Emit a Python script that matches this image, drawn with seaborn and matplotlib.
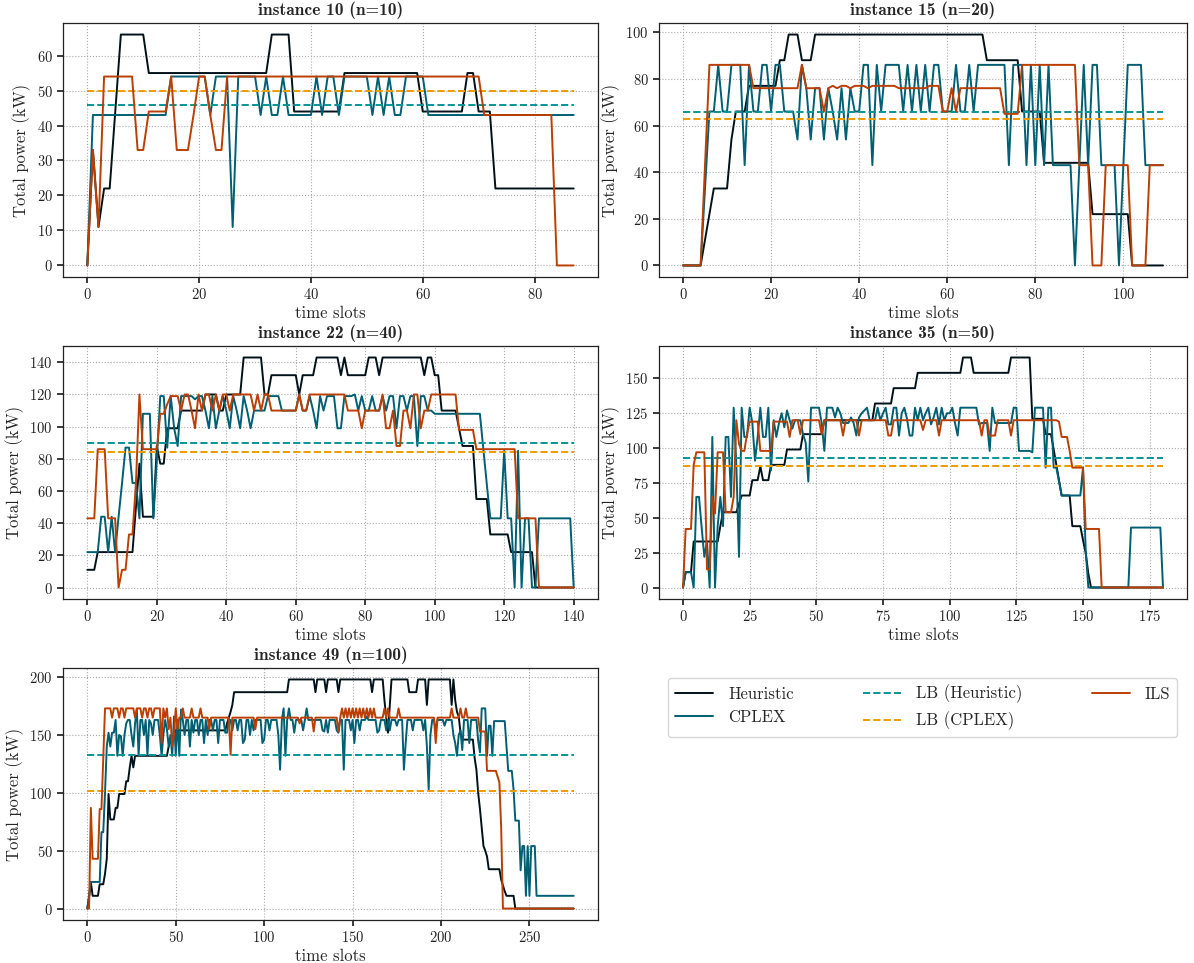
import numpy as np
import matplotlib
matplotlib.use("Agg")
import matplotlib.pyplot as plt
import seaborn as sns

# ---------------- data: total power per time slot (kW) ----------------
# instance 10 (n=10), 88 slots
h10 = [0, 33, 11, 22, 22, 44] + [66]*5 + [55]*22 + [66]*4 + [44]*9 + [55]*14 + [44]*8 + [55]*2 + [44]*3 + [22]*15
c10 = ([0] + [43]*14 + [54]*7 + [43] + [54]*3 + [11] + [54]*4 + [43] + [54] + [43]*2 + [54] + [43]*5
       + [54] + [43] + [54]*2 + [43] + [54]*5 + [43] + [54] + [43] + [54] + [43]*2 + [54]*4 + [43]*27)
i10 = [0, 33, 11] + [54]*6 + [33]*2 + [44]*4 + [54] + [33]*3 + [43] + [54]*2 + [43] + [33]*2 + [54]*46 + [43]*13 + [0]*4

# instance 15 (n=20), 110 slots
h15 = ([0]*5 + [11, 22] + [33]*4 + [54, 66, 66, 66] + [77]*7 + [88, 88] + [99]*3 + [88]*3 + [99]*39
       + [88]*8 + [66]*5 + [44]*11 + [22]*9 + [0]*8)
c15 = [0, 0, 0, 0, 0, 33, 66, 66, 86, 66, 66, 86, 86, 86, 43, 86,
       66, 66, 86, 86, 66, 86, 86, 66, 66, 66, 54, 86, 76, 54, 76, 76,
       54, 76, 66, 54, 76, 54, 76, 66, 66, 86, 86, 43, 86, 66, 86, 86,
       86, 86, 66, 86, 66, 86, 66, 86, 66, 86, 86, 66, 66, 66, 86, 66,
       66, 86, 66, 86, 86, 86, 86, 86, 86, 86, 43, 86, 86, 86, 43, 86,
       43, 86, 43, 86, 43, 43, 43, 43, 43, 0, 43, 86, 43, 86, 86, 43,
       43, 43, 43, 0, 43, 86, 86, 86, 86, 43, 43, 43, 43, 43]
i15 = ([0]*5 + [43] + [86]*10 + [76]*11 + [86] + [76]*4 + [66]
       + [76, 77, 76, 77, 77, 76, 77, 77, 77, 76, 77, 77, 77, 77, 77, 77, 76, 76, 76, 76, 76, 76, 76, 77, 77, 77]
       + [66, 66, 76, 66] + [76]*10 + [65]*4 + [86]*13 + [43]*3 + [0]*3 + [43]*6 + [0]*4 + [43]*4)

# instance 22 (n=40), 141 slots
h22 = ([11]*3 + [22]*11 + [50, 77] + [44]*4 + [88] + [77]*2 + [99]*4 + [110]*7 + [120]*4 + [110]*2
       + [120]*5 + [143]*6 + [120]*2 + [132]*8 + [120] + [132]*4 + [143]*7 + [132] + [143] + [132]*6
       + [143]*3 + [132] + [143]*12 + [132] + [143]*2 + [132]*2 + [110]*5 + [99] + [88]*4 + [55]*4
       + [33]*6 + [22]*7 + [0]*12)
c22 = [22, 22, 22, 22, 44, 44, 22, 44, 22, 44, 65, 87, 87, 65, 65, 43,
       108, 108, 108, 43, 79, 119, 119, 87, 119, 99, 88, 119, 119, 119, 119, 117,
       119, 119, 110, 99, 119, 99, 110, 119, 110, 99, 119, 110, 99, 119, 110, 99,
       110, 110, 110, 110, 119, 119, 119, 119, 110, 110, 110, 110, 110, 120, 110, 110,
       119, 110, 99, 119, 110, 119, 119, 119, 99, 99, 119, 119, 119, 120, 110, 119,
       110, 110, 119, 110, 110, 119, 110, 119, 119, 99, 119, 119, 110, 119, 119, 88,
       119, 119, 110, 110, 108, 108, 108, 108, 108, 108, 108, 108, 108, 108, 108, 108,
       108, 108, 86, 64, 43, 43, 43, 43, 85, 43, 43, 0, 85, 0, 43, 43,
       0, 0, 43, 43, 43, 43, 43, 43, 43, 43, 43, 43, 0]
i22 = ([43]*3 + [86]*3 + [43]*3 + [0] + [11]*2 + [33]*2 + [65, 120] + [86]*5 + [108]*2 + [114] + [119]*3
       + [110, 120, 120, 110, 99, 120, 110, 120, 120, 110, 120, 110, 120, 120, 110, 120, 120, 120, 120,
          120, 120, 110, 120, 110, 120, 120, 110]
       + [110]*7 + [120] + [110]*2 + [120]*11 + [110]*4 + [99] + [110]*5 + [120] + [99]*2 + [110]
       + [88]*2 + [110]*2 + [99] + [120]*2 + [99] + [110]*2 + [120]*8 + [98]*5 + [86]*12 + [43]*6 + [0]*11)

# instance 35 (n=50), 181 slots
h35 = ([0] + [11]*3 + [33]*10 + [44] + [54]*6 + [60] + [66]*4 + [77]*3 + [87] + [77]*3 + [88]*6
       + [99]*6 + [110]*8 + [120]*19 + [132]*7 + [143]*9 + [154]*17 + [165]*4 + [154]*14 + [165]*8
       + [121]*5 + [110]*3 + [99, 88, 77] + [66]*4 + [44]*4 + [34, 25, 10] + [0]*28)
c35 = [0, 11, 11, 11, 0, 65, 65, 43, 22, 33, 0, 108, 0, 44, 65, 44,
       108, 108, 65, 129, 88, 22, 129, 108, 108, 129, 118, 91, 108, 129, 108, 108,
       129, 84, 120, 108, 118, 125, 115, 127, 120, 114, 120, 120, 120, 110, 104, 76,
       129, 129, 129, 129, 118, 98, 129, 129, 129, 122, 129, 125, 118, 118, 118, 122,
       118, 109, 122, 125, 127, 129, 120, 120, 120, 129, 120, 125, 129, 117, 117, 129,
       129, 109, 125, 129, 121, 109, 109, 129, 120, 129, 120, 125, 129, 117, 122, 129,
       117, 129, 120, 125, 125, 129, 118, 109, 129, 129, 129, 129, 129, 129, 129, 117,
       118, 118, 118, 98, 129, 118, 118, 118, 118, 118, 118, 118, 129, 129, 98, 98,
       98, 98, 98, 97, 129, 129, 129, 129, 86, 129, 129, 86, 86, 76, 66, 66,
       66, 66, 66, 66, 66, 66, 86, 27, 0, 0, 0, 0, 0, 0, 0, 0,
       0, 0, 0, 0, 0, 0, 0, 0, 43, 43, 43, 43, 43, 43, 43, 43,
       43, 43, 43, 43, 0]
i35 = ([0] + [42]*3 + [88] + [97]*4 + [13]*2 + [65, 53] + [97]*3 + [54]*3 + [65, 120, 103, 98, 98, 110]
       + [119]*4 + [98]*5 + [119]*6 + [108]
       + [120, 120, 120, 110, 120, 120, 120, 120, 120, 120, 120, 110, 120, 120, 120, 120, 120, 120, 120, 109]
       + [120, 120, 120, 120, 120, 109, 120, 120, 120, 120, 120, 120, 120, 120, 120, 120, 109, 109, 120, 120]
       + [120, 120, 120, 120, 120, 120, 120, 120, 120, 113, 120, 120, 120, 120, 120, 109, 120, 120, 120, 120]
       + [120, 120, 120, 120, 120, 120, 120, 120, 120, 120, 120, 109, 120, 120, 109, 109, 109, 120, 120, 120]
       + [120, 120, 109, 120, 120, 120, 120, 120, 120, 120, 120, 120, 120, 120, 120, 120, 120, 120, 120, 120]
       + [119, 108, 108, 108, 98, 86, 86, 86, 86, 86, 42, 42, 42, 42, 42, 42, 0, 0, 0, 0]
       + [0]*20)

# instance 49 (n=100), 276 slots
h49 = ([0, 10, 23, 11, 11, 11, 11, 21, 21, 21, 30, 43, 99, 77, 77, 77, 87, 87, 99, 99,
        99, 99, 110, 110, 122, 132, 122, 132, 132, 132]
       + [132]*16 + [140] + [145, 148, 150] + [154]*29 + [160, 165, 170, 176] + [187]*31 + [198]*15
       + [187] + [198]*5 + [187] + [198]*6 + [187] + [198]*18 + [187] + [198]*6 + [180, 165, 152, 175]
       + [198]*10 + [187]*5 + [198]*5 + [176] + [198]*13 + [176, 198, 180, 170, 166, 152] + [146]*7
       + [130, 120, 100, 86, 70, 54, 50, 45] + [34]*7 + [25, 20, 15] + [11]*5 + [0]*34)
c49 = ([0, 11, 23, 23, 23, 23, 23, 23, 66, 66]
       + [100, 140, 152, 140, 152, 152, 163, 132, 150, 149, 132, 150, 160, 163, 163, 150, 140, 160, 172, 132]
       + [163, 163, 150, 163, 132, 163, 160, 150, 163, 163, 163, 150, 132, 150, 163, 155, 140, 150, 132, 166]
       + [132, 163, 132, 172, 163, 150, 163, 163, 140, 163, 152, 163, 163, 150, 163, 163, 143, 163, 150, 163]
       + [163, 154, 163, 163, 143, 163, 163, 163, 152, 152, 163, 163, 154, 163, 163, 154, 163, 163, 143, 146]
       + [163, 163, 150, 163, 154, 163, 163, 163, 163, 143, 146, 163, 163, 154, 163, 163, 163, 163, 150, 120]
       + [163, 173, 132, 163, 173, 163, 163, 152, 163, 163, 163, 163, 154, 163, 173, 163, 163, 163, 163, 163]
       + [163, 163, 163, 154, 153, 163, 152, 163, 163, 163, 163, 154, 152, 163, 163, 120, 163, 163, 163, 154]
       + [163, 143, 163, 163, 154, 163, 163, 163, 166, 163, 163, 163, 163, 163, 152, 154, 163, 163, 163, 154]
       + [163, 154, 163, 163, 163, 158, 163, 163, 163, 120, 143, 163, 163, 163, 154, 163, 163, 163, 163, 163]
       + [154, 163, 140, 103, 150, 163, 163, 154, 163, 163, 163, 163, 158, 163, 163, 163, 163, 150, 143, 132]
       + [150, 154, 137, 163, 163, 163, 143, 163, 163, 163, 163, 145, 135, 173, 173, 173, 132, 158, 158, 132]
       + [162, 162, 162, 162, 162, 162, 162, 140, 119, 119, 119, 103, 76, 76, 76, 33, 54, 54, 11, 54]
       + [11, 54, 54, 54, 11] + [11]*21)
i49 = ([0, 0, 87, 43, 43, 43, 43, 86, 86, 130]
       + [173, 173, 173, 173, 165, 173, 173, 173, 165, 173, 173, 165, 173, 173, 173, 173, 173, 165, 173, 173]
       + [173, 165, 173, 173, 165, 173, 173, 165, 173, 173, 173, 173, 143, 173, 165, 173, 155, 165, 140, 150]
       + [173, 155, 165, 165, 173, 165, 165, 165, 165, 173, 165, 165, 165, 165, 173, 165, 165, 165, 165, 155]
       + [165, 165, 165, 165, 165, 165, 165, 165, 165, 165, 165, 133, 165, 165, 165, 165, 165, 165, 165, 165]
       + [165, 165, 165, 165, 165, 155, 165, 165, 165, 165, 165, 165, 165, 165, 165, 165, 165, 165, 165, 165]
       + [165, 165, 165, 165, 165, 165, 165, 165, 165, 165, 160, 165, 165, 165, 165, 165, 165, 165, 153, 165]
       + [165, 165, 165, 165, 165, 165, 165, 165, 165, 165, 165, 165, 153, 165, 173, 165, 173, 165, 173, 165]
       + [173, 165, 173, 165, 173, 165, 173, 165, 173, 165, 173, 165, 173, 165, 165, 165, 165, 165, 173, 165]
       + [173, 165, 165, 165, 165, 165, 173, 165, 165, 165, 165, 165, 165, 165, 165, 165, 165, 165, 165, 165]
       + [165, 165, 165, 165, 165, 165, 165, 143, 165, 165, 165, 165, 165, 165, 165, 165, 173, 165, 165, 165]
       + [165, 173, 165, 165, 173, 165, 165, 165, 165, 165, 165, 165, 153, 153, 153, 153, 119, 119, 119, 119]
       + [119, 119, 114, 109, 70, 0] + [0]*14
       + [0]*26)

# lower bounds per instance
titles = ["instance 10 (n=10)", "instance 15 (n=20)", "instance 22 (n=40)",
          "instance 35 (n=50)", "instance 49 (n=100)"]
lb_heuristic = [46, 66, 90, 93, 133]
lb_cplex = [50, 63, 84, 87, 102]
heuristic = [h10, h15, h22, h35, h49]
cplex = [c10, c15, c22, c35, c49]
ils = [i10, i15, i22, i35, i49]

# ---------------- styling ----------------
sns.set_theme(style="ticks")
plt.rcParams.update({
    "font.family": ["cmr10", "DejaVu Serif"],
    "mathtext.fontset": "cm",
    "axes.formatter.use_mathtext": True,
    "axes.grid": True,
    "grid.linestyle": ":",
    "grid.color": "#aaaaaa",
    "grid.linewidth": 0.8,
    "axes.edgecolor": "#222222",
    "axes.linewidth": 0.9,
    "xtick.major.size": 4,
    "ytick.major.size": 4,
    "xtick.labelsize": 10.5,
    "ytick.labelsize": 10.5,
    "xtick.color": "#222222",
    "ytick.color": "#222222",
})

COL_HEUR = "#001219"
COL_CPLEX = "#005f73"
COL_LBH = "#0a9396"
COL_LBC = "#ee9b00"
COL_ILS = "#bb3e03"
LW = 1.4

W, H = 1194, 963
fig = plt.figure(figsize=(W / 100, H / 100), dpi=100)

# axes boxes in pixels: (left, top, right, bottom)
boxes = [(63, 23, 598, 277), (659, 23, 1187, 277),
         (63, 346, 598, 599), (659, 346, 1187, 599),
         (63, 668, 598, 920)]

handles = None
for k, (l, t, r, b) in enumerate(boxes):
    ax = fig.add_axes([l / W, 1 - b / H, (r - l) / W, (b - t) / H])
    n = len(heuristic[k])
    slots = np.arange(n)
    span = [0, n - 1]
    sns.lineplot(x=slots, y=heuristic[k], ax=ax, color=COL_HEUR, lw=LW, label="Heuristic")
    sns.lineplot(x=slots, y=cplex[k], ax=ax, color=COL_CPLEX, lw=LW, label="CPLEX")
    sns.lineplot(x=span, y=[lb_heuristic[k]] * 2, ax=ax, color=COL_LBH, lw=LW,
                 linestyle="--", label="LB (Heuristic)")
    sns.lineplot(x=span, y=[lb_cplex[k]] * 2, ax=ax, color=COL_LBC, lw=LW,
                 linestyle="--", label="LB (CPLEX)")
    sns.lineplot(x=slots, y=ils[k], ax=ax, color=COL_ILS, lw=LW, label="ILS")
    if handles is None:
        handles, labels = ax.get_legend_handles_labels()
    if ax.get_legend() is not None:
        ax.get_legend().remove()
    ax.set_title(titles[k], fontsize=12.5, fontfamily="cmb10", pad=6)
    ax.set_xlabel("time slots", fontsize=12, labelpad=2)
    ax.set_ylabel("Total power (kW)", fontsize=12, labelpad=4)
    ax.grid(True)
    for s in ax.spines.values():
        s.set_visible(True)

fig.legend(handles, labels, loc="upper left", ncol=3, mode="expand",
           bbox_to_anchor=(668 / W, 1 - 678 / H - 0.1, (1177 - 668) / W, 0.1),
           borderaxespad=0, fontsize=12, handlelength=2.3, handletextpad=0.9,
           frameon=True, fancybox=True, edgecolor="#cccccc")

fig.savefig("out.png", dpi=100)
